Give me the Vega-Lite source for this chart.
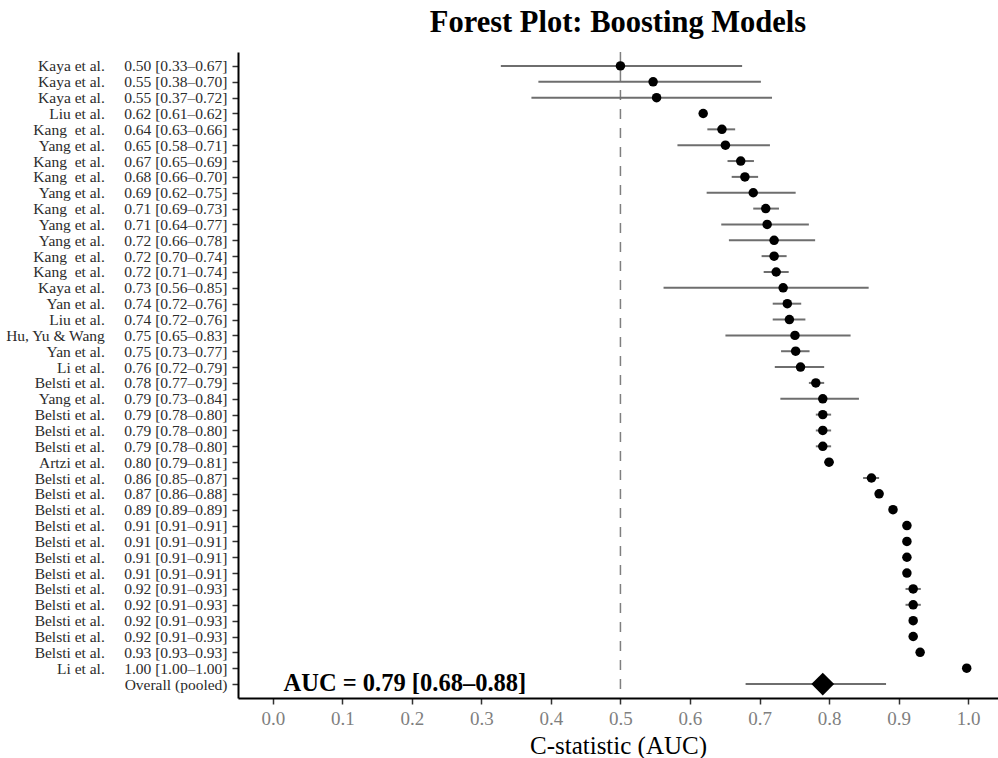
{
  "$schema": "https://vega.github.io/schema/vega-lite/v6.json",
  "autosize": "none",
  "width": 760,
  "height": 646,
  "padding": {"left": 238, "top": 52, "right": 0, "bottom": 60},
  "background": "white",
  "title": {
    "text": "Forest Plot: Boosting Models",
    "font": "Liberation Serif",
    "fontSize": 30.5,
    "fontWeight": "bold",
    "color": "black",
    "anchor": "middle",
    "baseline": "alphabetic",
    "offset": -11
  },
  "config": {
    "font": "Liberation Serif",
    "view": {"stroke": null},
    "axis": {"grid": false}
  },
  "data": {
    "values": [
      {"row": 1, "label": "Kaya et al.\u00a0\u00a0\u00a0\u00a0\u00a00.50 [0.33\u20130.67]", "type": "study", "est": 0.5, "lo": 0.328, "hi": 0.675},
      {"row": 2, "label": "Kaya et al.\u00a0\u00a0\u00a0\u00a0\u00a00.55 [0.38\u20130.70]", "type": "study", "est": 0.547, "lo": 0.382, "hi": 0.702},
      {"row": 3, "label": "Kaya et al.\u00a0\u00a0\u00a0\u00a0\u00a00.55 [0.37\u20130.72]", "type": "study", "est": 0.552, "lo": 0.372, "hi": 0.718},
      {"row": 4, "label": "Liu et al.\u00a0\u00a0\u00a0\u00a0\u00a00.62 [0.61\u20130.62]", "type": "study", "est": 0.619, "lo": 0.613, "hi": 0.622},
      {"row": 5, "label": "Kang\u00a0\u00a0et al.\u00a0\u00a0\u00a0\u00a0\u00a00.64 [0.63\u20130.66]", "type": "study", "est": 0.646, "lo": 0.625, "hi": 0.665},
      {"row": 6, "label": "Yang et al.\u00a0\u00a0\u00a0\u00a0\u00a00.65 [0.58\u20130.71]", "type": "study", "est": 0.651, "lo": 0.582, "hi": 0.715},
      {"row": 7, "label": "Kang\u00a0\u00a0et al.\u00a0\u00a0\u00a0\u00a0\u00a00.67 [0.65\u20130.69]", "type": "study", "est": 0.673, "lo": 0.654, "hi": 0.692},
      {"row": 8, "label": "Kang\u00a0\u00a0et al.\u00a0\u00a0\u00a0\u00a0\u00a00.68 [0.66\u20130.70]", "type": "study", "est": 0.679, "lo": 0.66, "hi": 0.698},
      {"row": 9, "label": "Yang et al.\u00a0\u00a0\u00a0\u00a0\u00a00.69 [0.62\u20130.75]", "type": "study", "est": 0.691, "lo": 0.624, "hi": 0.752},
      {"row": 10, "label": "Kang\u00a0\u00a0et al.\u00a0\u00a0\u00a0\u00a0\u00a00.71 [0.69\u20130.73]", "type": "study", "est": 0.709, "lo": 0.691, "hi": 0.728},
      {"row": 11, "label": "Yang et al.\u00a0\u00a0\u00a0\u00a0\u00a00.71 [0.64\u20130.77]", "type": "study", "est": 0.711, "lo": 0.645, "hi": 0.771},
      {"row": 12, "label": "Yang et al.\u00a0\u00a0\u00a0\u00a0\u00a00.72 [0.66\u20130.78]", "type": "study", "est": 0.721, "lo": 0.656, "hi": 0.78},
      {"row": 13, "label": "Kang\u00a0\u00a0et al.\u00a0\u00a0\u00a0\u00a0\u00a00.72 [0.70\u20130.74]", "type": "study", "est": 0.721, "lo": 0.703, "hi": 0.739},
      {"row": 14, "label": "Kang\u00a0\u00a0et al.\u00a0\u00a0\u00a0\u00a0\u00a00.72 [0.71\u20130.74]", "type": "study", "est": 0.724, "lo": 0.706, "hi": 0.742},
      {"row": 15, "label": "Kaya et al.\u00a0\u00a0\u00a0\u00a0\u00a00.73 [0.56\u20130.85]", "type": "study", "est": 0.734, "lo": 0.562, "hi": 0.857},
      {"row": 16, "label": "Yan et al.\u00a0\u00a0\u00a0\u00a0\u00a00.74 [0.72\u20130.76]", "type": "study", "est": 0.74, "lo": 0.719, "hi": 0.76},
      {"row": 17, "label": "Liu et al.\u00a0\u00a0\u00a0\u00a0\u00a00.74 [0.72\u20130.76]", "type": "study", "est": 0.743, "lo": 0.719, "hi": 0.766},
      {"row": 18, "label": "Hu, Yu & Wang\u00a0\u00a0\u00a0\u00a0\u00a00.75 [0.65\u20130.83]", "type": "study", "est": 0.751, "lo": 0.651, "hi": 0.831},
      {"row": 19, "label": "Yan et al.\u00a0\u00a0\u00a0\u00a0\u00a00.75 [0.73\u20130.77]", "type": "study", "est": 0.752, "lo": 0.731, "hi": 0.772},
      {"row": 20, "label": "Li et al.\u00a0\u00a0\u00a0\u00a0\u00a00.76 [0.72\u20130.79]", "type": "study", "est": 0.759, "lo": 0.722, "hi": 0.793},
      {"row": 21, "label": "Belsti et al.\u00a0\u00a0\u00a0\u00a0\u00a00.78 [0.77\u20130.79]", "type": "study", "est": 0.781, "lo": 0.771, "hi": 0.793},
      {"row": 22, "label": "Yang et al.\u00a0\u00a0\u00a0\u00a0\u00a00.79 [0.73\u20130.84]", "type": "study", "est": 0.791, "lo": 0.73, "hi": 0.843},
      {"row": 23, "label": "Belsti et al.\u00a0\u00a0\u00a0\u00a0\u00a00.79 [0.78\u20130.80]", "type": "study", "est": 0.791, "lo": 0.781, "hi": 0.803},
      {"row": 24, "label": "Belsti et al.\u00a0\u00a0\u00a0\u00a0\u00a00.79 [0.78\u20130.80]\u200b", "type": "study", "est": 0.791, "lo": 0.781, "hi": 0.803},
      {"row": 25, "label": "Belsti et al.\u00a0\u00a0\u00a0\u00a0\u00a00.79 [0.78\u20130.80]\u200b\u200b", "type": "study", "est": 0.791, "lo": 0.781, "hi": 0.803},
      {"row": 26, "label": "Artzi et al.\u00a0\u00a0\u00a0\u00a0\u00a00.80 [0.79\u20130.81]", "type": "study", "est": 0.8, "lo": 0.793, "hi": 0.807},
      {"row": 27, "label": "Belsti et al.\u00a0\u00a0\u00a0\u00a0\u00a00.86 [0.85\u20130.87]", "type": "study", "est": 0.861, "lo": 0.849, "hi": 0.872},
      {"row": 28, "label": "Belsti et al.\u00a0\u00a0\u00a0\u00a0\u00a00.87 [0.86\u20130.88]", "type": "study", "est": 0.872, "lo": 0.866, "hi": 0.878},
      {"row": 29, "label": "Belsti et al.\u00a0\u00a0\u00a0\u00a0\u00a00.89 [0.89\u20130.89]", "type": "study", "est": 0.892, "lo": 0.889, "hi": 0.894},
      {"row": 30, "label": "Belsti et al.\u00a0\u00a0\u00a0\u00a0\u00a00.91 [0.91\u20130.91]", "type": "study", "est": 0.912, "lo": 0.909, "hi": 0.914},
      {"row": 31, "label": "Belsti et al.\u00a0\u00a0\u00a0\u00a0\u00a00.91 [0.91\u20130.91]\u200b", "type": "study", "est": 0.912, "lo": 0.909, "hi": 0.914},
      {"row": 32, "label": "Belsti et al.\u00a0\u00a0\u00a0\u00a0\u00a00.91 [0.91\u20130.91]\u200b\u200b", "type": "study", "est": 0.912, "lo": 0.909, "hi": 0.914},
      {"row": 33, "label": "Belsti et al.\u00a0\u00a0\u00a0\u00a0\u00a00.91 [0.91\u20130.91]\u200b\u200b\u200b", "type": "study", "est": 0.912, "lo": 0.909, "hi": 0.914},
      {"row": 34, "label": "Belsti et al.\u00a0\u00a0\u00a0\u00a0\u00a00.92 [0.91\u20130.93]", "type": "study", "est": 0.921, "lo": 0.91, "hi": 0.932},
      {"row": 35, "label": "Belsti et al.\u00a0\u00a0\u00a0\u00a0\u00a00.92 [0.91\u20130.93]\u200b", "type": "study", "est": 0.921, "lo": 0.91, "hi": 0.932},
      {"row": 36, "label": "Belsti et al.\u00a0\u00a0\u00a0\u00a0\u00a00.92 [0.91\u20130.93]\u200b\u200b", "type": "study", "est": 0.921, "lo": 0.915, "hi": 0.927},
      {"row": 37, "label": "Belsti et al.\u00a0\u00a0\u00a0\u00a0\u00a00.92 [0.91\u20130.93]\u200b\u200b\u200b", "type": "study", "est": 0.921, "lo": 0.915, "hi": 0.927},
      {"row": 38, "label": "Belsti et al.\u00a0\u00a0\u00a0\u00a0\u00a00.93 [0.93\u20130.93]", "type": "study", "est": 0.931, "lo": 0.929, "hi": 0.934},
      {"row": 39, "label": "Li et al.\u00a0\u00a0\u00a0\u00a0\u00a01.00 [1.00\u20131.00]", "type": "study", "est": 0.998, "lo": 0.997, "hi": 0.999},
      {"row": 40, "label": "Overall (pooled)", "type": "overall", "est": 0.791, "lo": 0.68, "hi": 0.882, "note": "AUC = 0.79 [0.68\u20130.88]"}
    ]
  },
  "layer": [
    {
      "data": {"values": [{"ref": 0.5}]},
      "mark": {"type": "rule", "color": "#7f7f7f", "strokeWidth": 1.5, "strokeDash": [10, 9]},
      "encoding": {
        "x": {"field": "ref", "type": "quantitative", "scale": {"domain": [-0.05, 1.043], "nice": false, "zero": false}}
      }
    },
    {
      "mark": {"type": "rule", "color": "#6e6e6e", "strokeWidth": 2},
      "encoding": {
        "y": {"field": "label", "type": "nominal", "sort": {"field": "row", "op": "min"}, "scale": {"type": "point", "padding": 0.88},
          "axis": {"title": null, "domainColor": "black", "domainWidth": 2, "tickColor": "#333333", "tickSize": 6, "tickWidth": 1.5, "labelFont": "Liberation Serif", "labelFontSize": 15.5, "labelColor": "#2b2b2b", "labelPadding": 5, "labelLimit": 300}},
        "x": {"field": "lo", "type": "quantitative",
          "axis": {"values": [0, 0.1, 0.2, 0.3, 0.4, 0.5, 0.6, 0.7, 0.8, 0.9, 1.0], "format": ".1f", "title": "C-statistic (AUC)", "domainColor": "black", "domainWidth": 2, "tickColor": "#333333", "tickSize": 6, "tickWidth": 1.5, "labelFont": "Liberation Serif", "labelFontSize": 19, "labelColor": "#7f7f7f", "labelPadding": 5, "titleFont": "Liberation Serif", "titleFontSize": 25, "titleFontWeight": "normal", "titleColor": "black", "titlePadding": 5}},
        "x2": {"field": "hi"}
      }
    },
    {
      "transform": [{"filter": "datum.type === 'study'"}],
      "mark": {"type": "point", "shape": "circle", "filled": true, "color": "black", "opacity": 1, "size": 90},
      "encoding": {
        "y": {"field": "label", "type": "nominal", "sort": {"field": "row", "op": "min"}},
        "x": {"field": "est", "type": "quantitative"}
      }
    },
    {
      "transform": [{"filter": "datum.type === 'overall'"}],
      "mark": {"type": "point", "shape": "diamond", "filled": true, "color": "black", "opacity": 1, "size": 520},
      "encoding": {
        "y": {"field": "label", "type": "nominal", "sort": {"field": "row", "op": "min"}},
        "x": {"field": "est", "type": "quantitative"}
      }
    },
    {
      "transform": [{"filter": "datum.type === 'overall'"}],
      "mark": {"type": "text", "font": "Liberation Serif", "fontSize": 24.5, "fontWeight": "bold", "color": "black", "align": "center", "baseline": "middle"},
      "encoding": {
        "y": {"field": "label", "type": "nominal", "sort": {"field": "row", "op": "min"}},
        "x": {"datum": 0.19, "type": "quantitative"},
        "text": {"field": "note"}
      }
    }
  ]
}
